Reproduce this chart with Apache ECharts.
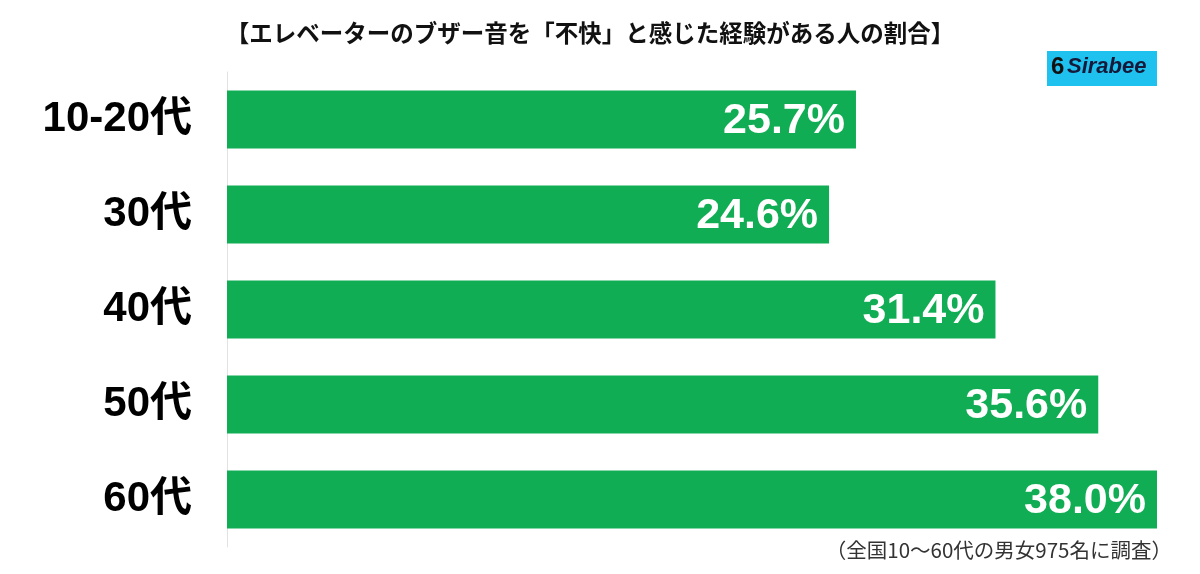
<!DOCTYPE html>
<html>
<head>
<meta charset="utf-8">
<script src="https://cdn.jsdelivr.net/npm/echarts@6/dist/echarts.min.js"></script>
<style>
  html, body { margin: 0; padding: 0; background: #fff; }
  #chart { width: 1200px; height: 574px; }
</style>
</head>
<body>
<div id="chart"></div>
<script>
// 年代別の割合（%）
const ageGroups = ['10-20代', '30代', '40代', '50代', '60代']
const ratios = [25.7, 24.6, 31.4, 35.6, 38.0]
const titleText = '【エレベーターのブザー音を「不快」と感じた経験がある人の割合】'
const noteText = '（全国10〜60代の男女975名に調査）'

const chart = echarts.init(document.getElementById('chart'))
chart.setOption({
  backgroundColor: '#ffffff',
  animation: false,
  title: {
    text: titleText,
    left: 585,
    top: 16,
    textAlign: 'center',
    textStyle: {
      fontFamily: 'Noto Sans CJK JP',
      fontSize: 23.5,
      fontWeight: 'bold',
      color: '#111'
    }
  },
  grid: { left: 227, right: 43, top: 72, height: 475 },
  xAxis: {
    type: 'value',
    min: 0,
    max: 38,
    show: false
  },
  yAxis: {
    type: 'category',
    data: ageGroups,
    inverse: true,
    axisLine: { show: true, lineStyle: { color: '#e2e2e2', width: 1 } },
    axisTick: { show: false },
    axisLabel: {
      margin: 35,
      fontFamily: 'Liberation Sans, Noto Sans CJK JP',
      fontSize: 42,
      fontWeight: 'bold',
      color: '#000'
    }
  },
  series: [
    {
      type: 'bar',
      data: ratios,
      barWidth: 58,
      itemStyle: { color: '#10ad54' },
      label: {
        show: true,
        position: 'insideRight',
        offset: [-6, 2],
        formatter: p => p.value.toFixed(1) + '%',
        fontFamily: 'Liberation Sans',
        fontSize: 43,
        fontWeight: 'bold',
        color: '#fff'
      }
    }
  ],
  graphic: [
    {
      type: 'rect',
      shape: { x: 1047, y: 51, width: 110, height: 35 },
      style: { fill: '#1fc1ef' }
    },
    {
      type: 'text',
      left: 1051,
      top: 55,
      style: {
        text: '6',
        font: 'bold 24px "Liberation Sans"',
        fill: '#111'
      }
    },
    {
      type: 'text',
      left: 1067,
      top: 56,
      style: {
        text: 'Sirabee',
        font: 'italic bold 22px "Liberation Sans"',
        fill: '#161a3a'
      }
    },
    {
      type: 'text',
      right: 28,
      top: 540,
      style: {
        text: noteText,
        font: '20.5px "Noto Sans CJK JP"',
        fill: '#333'
      }
    }
  ]
})
</script>
</body>
</html>
